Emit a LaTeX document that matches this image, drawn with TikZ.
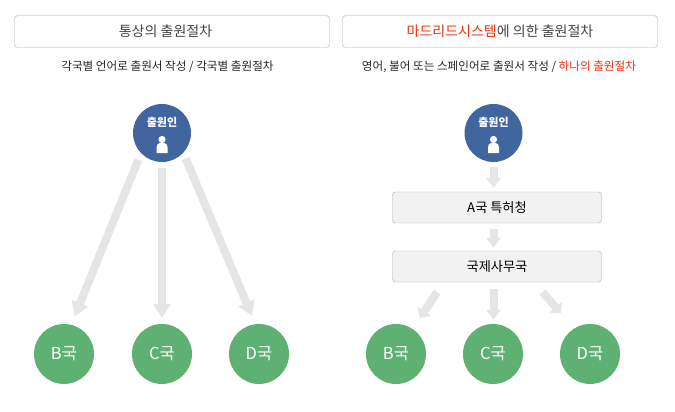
\documentclass[tikz,border=0pt]{standalone}
\usepackage{fontspec}
\setmainfont{Noto Sans CJK KR}
\usepackage{xcolor}
\usetikzlibrary{positioning,arrows.meta}
\definecolor{titleline}{HTML}{ABABAB}
\definecolor{titletext}{HTML}{444444}
\definecolor{redtext}{HTML}{E8320F}
\definecolor{appblue}{HTML}{41659F}
\definecolor{natgreen}{HTML}{5FB173}
\definecolor{arrowgray}{HTML}{E5E5E5}
\definecolor{officefill}{HTML}{F2F2F2}
\definecolor{officeline}{HTML}{ABABAB}
\tikzset{
    titlebox/.style={draw=titleline, rounded corners=3.5pt, minimum width=315pt, minimum height=32pt,
        inner sep=0pt, text=titletext, font=\fontsize{14}{16}\selectfont},
    subtext/.style={inner sep=0pt, text=black!85, font=\fontsize{11.6}{13}\selectfont},
    applicant/.style={circle, fill=appblue, minimum size=58pt, inner sep=0pt},
    applabel/.style={inner sep=0pt, text=white, font=\fontsize{11}{13}\selectfont\bfseries},
    nation/.style={circle, fill=natgreen, minimum size=60pt, inner sep=0pt, text=white,
        font=\fontsize{16.5}{18}\selectfont},
    office/.style={draw=officeline, fill=officefill, rounded corners=3pt, minimum width=209pt,
        minimum height=31pt, inner sep=0pt, font=\fontsize{13.2}{15}\selectfont},
    longarrow/.style={draw=arrowgray, line width=8pt, -{Triangle[length=14pt,width=17pt]}},
    shortarrow/.style={draw=arrowgray, line width=8pt, -{Triangle[length=10pt,width=14pt]}},
    diagarrow/.style={draw=arrowgray, line width=8pt, -{Triangle[length=8pt,width=16pt]}}
}
\newcommand{\personicon}[1]{%
    \fill[white] (#1) ++(0,-6.5) circle (3.6pt);
    \fill[white] (#1) ++(-5.5,7) -- ++(0,-6) to[out=90,in=180] ++(3.5,-4) -- ++(4,0)
        to[out=0,in=90] ++(3.5,4) -- ++(0,6) -- cycle;
}
\begin{document}
\begin{tikzpicture}[x=1pt,y=-1pt]
    \useasboundingbox (0,0) rectangle (675,412);

    % titles
    \node[titlebox] (title1) at (172,31.5) {통상의 출원절차\hspace{13pt}\mbox{}};
    \node[titlebox] (title2) at (500,31.5) {\textcolor{redtext}{마드리드시스템}에 의한 출원절차};
    \node[subtext] (sub1) at (167.5,66.5) {각국별 언어로 출원서 작성 / 각국별 출원절차};
    \node[subtext] (sub2) at (499,66.5) {영어, 불어 또는 스페인어로 출원서 작성 / \textcolor{redtext}{하나의 출원절차}};

    % left side
    \node[applicant] (app1) at (162,133) {};
    \node[applabel]  (applabel1) at (162,122) {출원인};
    \coordinate (icon1) at (162,146);
    \personicon{icon1}

    \node[nation] (B1) at (64,354)  {B국};
    \node[nation] (C1) at (162,354) {C국};
    \node[nation] (D1) at (259,354) {D국};

    \draw[longarrow, shorten <=7pt, shorten >=9pt] (app1.-136) -- (B1.76);
    \draw[longarrow, shorten <=6pt, shorten >=6pt] (app1.south) -- (C1.north);
    \draw[longarrow, shorten <=6pt, shorten >=9pt] (app1.-43)  -- (D1.97);

    % right side
    \node[applicant] (app2) at (493.5,133) {};
    \node[applabel]  (applabel2) at (493.5,122) {출원인};
    \coordinate (icon2) at (493.5,146);
    \personicon{icon2}

    \node[office] (officeA)  at (497,207.5) {A국 특허청};
    \node[office] (officeIB) at (497,266.5) {국제사무국};

    \node[nation] (B2) at (396,354) {B국};
    \node[nation] (C2) at (493,354) {C국};
    \node[nation] (D2) at (590,354) {D국};

    \begin{scope}[xshift=1pt]
    \draw[shortarrow, shorten <=5pt, shorten >=4pt] (app2.south) -- (app2.south |- officeA.north);
    \draw[shortarrow, shorten <=6pt, shorten >=3pt] (app2.south |- officeA.south) -- (app2.south |- officeIB.north);
    \draw[shortarrow, shorten <=7pt, shorten >=4pt] (app2.south |- officeIB.south) -- (app2.south |- C2.north);
    \end{scope}
    \draw[diagarrow, shorten <=12pt, shorten >=13pt] ([xshift=-53pt]officeIB.south) -- (B2.57);
    \draw[diagarrow, shorten <=13pt, shorten >=20pt] ([xshift=37pt]officeIB.south) -- (D2.122);
\end{tikzpicture}
\end{document}
